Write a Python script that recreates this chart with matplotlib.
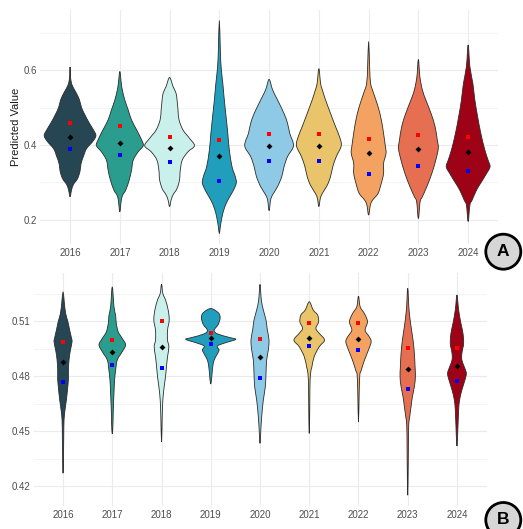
import numpy as np
import matplotlib
matplotlib.use("Agg")
import matplotlib.pyplot as plt
from matplotlib.path import Path
from matplotlib.patches import PathPatch, Circle

plt.rcParams["font.family"] = ["Liberation Sans", "DejaVu Sans"]

years = ["2016", "2017", "2018", "2019", "2020", "2021", "2022", "2023", "2024"]
colors = ["#264653", "#2a9d8f", "#caf0ec", "#219ebc", "#8ecae6",
          "#e9c46a", "#f4a261", "#e76f51", "#9d0216"]

# ---- Panel A: density outlines (value, half-width in category units) ----
top_values = {
    "2016": [0.262, 0.28, 0.295, 0.31, 0.33, 0.35, 0.37, 0.39, 0.41, 0.425, 0.44, 0.46, 0.48, 0.50, 0.52, 0.54, 0.56, 0.58, 0.608],
    "2017": [0.222, 0.253, 0.267, 0.28, 0.307, 0.333, 0.36, 0.382, 0.398, 0.413, 0.44, 0.467, 0.493, 0.52, 0.547, 0.564, 0.596],
    "2018": [0.236, 0.253, 0.267, 0.284, 0.307, 0.333, 0.36, 0.382, 0.398, 0.418, 0.44, 0.467, 0.493, 0.52, 0.538, 0.556, 0.58],
    "2019": [0.164, 0.182, 0.209, 0.231, 0.253, 0.276, 0.298, 0.316, 0.342, 0.387, 0.431, 0.476, 0.52, 0.564, 0.609, 0.653, 0.732],
    "2020": [0.225, 0.253, 0.267, 0.289, 0.316, 0.342, 0.369, 0.398, 0.431, 0.458, 0.484, 0.52, 0.547, 0.575],
    "2021": [0.236, 0.258, 0.271, 0.293, 0.316, 0.342, 0.369, 0.398, 0.422, 0.449, 0.484, 0.52, 0.547, 0.564, 0.604],
    "2022": [0.213, 0.24, 0.253, 0.271, 0.298, 0.324, 0.351, 0.378, 0.398, 0.431, 0.467, 0.502, 0.538, 0.564, 0.609, 0.676],
    "2023": [0.204, 0.249, 0.262, 0.289, 0.324, 0.36, 0.391, 0.413, 0.449, 0.484, 0.52, 0.547, 0.582, 0.628],
    "2024": [0.196, 0.24, 0.253, 0.28, 0.302, 0.324, 0.342, 0.36, 0.387, 0.431, 0.476, 0.52, 0.564, 0.609, 0.667],
}
top_widths = {
    "2016": [0.0, 0.03, 0.07, 0.15, 0.20, 0.22, 0.27, 0.33, 0.46, 0.52, 0.47, 0.38, 0.30, 0.23, 0.19, 0.12, 0.04, 0.01, 0.0],
    "2017": [0.0, 0.03, 0.06, 0.12, 0.19, 0.235, 0.27, 0.37, 0.47, 0.44, 0.34, 0.235, 0.17, 0.10, 0.05, 0.03, 0.0],
    "2018": [0.0, 0.03, 0.07, 0.15, 0.20, 0.215, 0.255, 0.37, 0.50, 0.40, 0.27, 0.19, 0.17, 0.15, 0.13, 0.07, 0.0],
    "2019": [0.0, 0.02, 0.055, 0.10, 0.17, 0.27, 0.34, 0.32, 0.255, 0.20, 0.17, 0.135, 0.10, 0.07, 0.035, 0.02, 0.0],
    "2020": [0.0, 0.03, 0.07, 0.17, 0.255, 0.30, 0.37, 0.49, 0.415, 0.37, 0.30, 0.17, 0.07, 0.0],
    "2021": [0.0, 0.03, 0.07, 0.17, 0.235, 0.28, 0.35, 0.45, 0.415, 0.335, 0.235, 0.135, 0.07, 0.035, 0.0],
    "2022": [0.0, 0.035, 0.08, 0.19, 0.255, 0.30, 0.30, 0.35, 0.335, 0.30, 0.255, 0.19, 0.10, 0.04, 0.02, 0.0],
    "2023": [0.0, 0.035, 0.08, 0.17, 0.27, 0.35, 0.40, 0.38, 0.335, 0.255, 0.15, 0.08, 0.03, 0.0],
    "2024": [0.0, 0.035, 0.08, 0.17, 0.27, 0.37, 0.44, 0.40, 0.335, 0.255, 0.19, 0.135, 0.095, 0.035, 0.0],
}
top_red = [0.458, 0.452, 0.422, 0.412, 0.428, 0.428, 0.417, 0.427, 0.420]
top_black = [0.422, 0.406, 0.393, 0.370, 0.397, 0.396, 0.378, 0.390, 0.380]
top_blue = [0.388, 0.372, 0.355, 0.305, 0.356, 0.357, 0.323, 0.343, 0.331]

# ---- Panel B ----
bot_values = {
    "2016": [0.427, 0.438, 0.447, 0.456, 0.4615, 0.467, 0.472, 0.478, 0.483, 0.489, 0.494, 0.4987, 0.501, 0.505, 0.510, 0.514, 0.5196, 0.526],
    "2017": [0.4484, 0.454, 0.4615, 0.4705, 0.4778, 0.483, 0.4887, 0.4933, 0.497, 0.5005, 0.504, 0.5087, 0.513, 0.5178, 0.5287],
    "2018": [0.4442, 0.4578, 0.467, 0.4742, 0.4796, 0.485, 0.4905, 0.496, 0.4996, 0.505, 0.5105, 0.516, 0.5215, 0.525, 0.530],
    "2019": [0.4756, 0.4815, 0.485, 0.4887, 0.4915, 0.4942, 0.4964, 0.4982, 0.500, 0.5011, 0.503, 0.505, 0.508, 0.5115, 0.514, 0.5160, 0.5168],
    "2020": [0.4433, 0.4524, 0.4596, 0.467, 0.4742, 0.4815, 0.4887, 0.4942, 0.4996, 0.505, 0.5105, 0.516, 0.5215, 0.530],
    "2021": [0.4487, 0.4615, 0.4742, 0.4815, 0.485, 0.4905, 0.496, 0.4996, 0.5033, 0.506, 0.5096, 0.5133, 0.516, 0.5205],
    "2022": [0.4549, 0.4705, 0.4805, 0.483, 0.4887, 0.4942, 0.4987, 0.5015, 0.505, 0.5096, 0.514, 0.5178, 0.5236],
    "2023": [0.415, 0.4305, 0.4433, 0.4533, 0.4578, 0.4633, 0.4687, 0.4742, 0.4796, 0.485, 0.4924, 0.4996, 0.5069, 0.516, 0.5278],
    "2024": [0.4418, 0.4524, 0.4615, 0.467, 0.4724, 0.4778, 0.4815, 0.485, 0.4887, 0.4924, 0.4978, 0.5033, 0.5087, 0.516, 0.5242],
}
bot_widths = {
    "2016": [0.0, 0.01, 0.014, 0.02, 0.04, 0.068, 0.088, 0.108, 0.108, 0.122, 0.149, 0.183, 0.169, 0.135, 0.095, 0.054, 0.027, 0.0],
    "2017": [0.0, 0.014, 0.02, 0.034, 0.047, 0.068, 0.10, 0.203, 0.27, 0.203, 0.122, 0.081, 0.068, 0.034, 0.0],
    "2018": [0.0, 0.014, 0.027, 0.054, 0.081, 0.10, 0.122, 0.149, 0.122, 0.122, 0.156, 0.135, 0.081, 0.027, 0.0],
    "2019": [0.0, 0.027, 0.04, 0.068, 0.122, 0.169, 0.135, 0.305, 0.508, 0.372, 0.135, 0.068, 0.149, 0.19, 0.169, 0.081, 0.0],
    "2020": [0.0, 0.02, 0.04, 0.068, 0.108, 0.122, 0.135, 0.169, 0.183, 0.149, 0.122, 0.068, 0.027, 0.0],
    "2021": [0.0, 0.01, 0.014, 0.027, 0.054, 0.10, 0.203, 0.311, 0.203, 0.135, 0.19, 0.169, 0.081, 0.0],
    "2022": [0.0, 0.014, 0.027, 0.054, 0.122, 0.203, 0.257, 0.217, 0.135, 0.183, 0.122, 0.034, 0.0],
    "2023": [0.0, 0.01, 0.014, 0.02, 0.04, 0.068, 0.095, 0.135, 0.156, 0.149, 0.135, 0.108, 0.068, 0.027, 0.0],
    "2024": [0.0, 0.02, 0.034, 0.054, 0.10, 0.162, 0.19, 0.149, 0.10, 0.10, 0.135, 0.122, 0.081, 0.034, 0.0],
}
bot_red = [0.4987, 0.4996, 0.5102, 0.5033, 0.5004, 0.5089, 0.5087, 0.4955, 0.4955]
bot_black = [0.4875, 0.4933, 0.4960, 0.5007, 0.4905, 0.5009, 0.5000, 0.4838, 0.4856]
bot_blue = [0.4767, 0.4860, 0.4845, 0.4975, 0.4791, 0.4962, 0.4940, 0.4731, 0.4773]

W, H = 523, 529
fig = plt.figure(figsize=(W / 100, H / 100), dpi=100)
fig.patch.set_facecolor("white")


def px_axes(left, top, right, bottom):
    return fig.add_axes([left / W, 1 - bottom / H, (right - left) / W, (bottom - top) / H])


def smooth_path(pts):
    """Closed Catmull-Rom curve through pts, as cubic Bezier segments."""
    pts = np.asarray(pts, dtype=float)
    n = len(pts)
    verts = [pts[0]]
    codes = [Path.MOVETO]
    for i in range(n):
        p0, p1, p2, p3 = pts[i - 1], pts[i], pts[(i + 1) % n], pts[(i + 2) % n]
        c1 = p1 + (p2 - p0) / 6.0
        c2 = p2 - (p3 - p1) / 6.0
        verts += [c1, c2, p2]
        codes += [Path.CURVE4] * 3
    return Path(verts, codes)


def draw_violin(ax, xc, vals, widths, color):
    vals = np.asarray(vals)
    widths = np.asarray(widths)
    right = [(xc + w, v) for v, w in zip(vals, widths)]
    left = [(xc - w, v) for v, w in zip(vals[::-1], widths[::-1])][1:-1]
    path = smooth_path(right + left)
    ax.add_patch(PathPatch(path, facecolor=color, edgecolor="#2b2b2b",
                           linewidth=0.6, zorder=2))


def style_axes(ax, ylim, yticks, yminor):
    ax.set_xlim(0.4, 9.6)
    ax.set_ylim(*ylim)
    ax.set_xticks(range(1, 10))
    ax.set_xticklabels(years)
    ax.set_yticks(yticks)
    ax.set_yticks(yminor, minor=True)
    for s in ax.spines.values():
        s.set_visible(False)
    ax.grid(True, which="major", color="#ebebeb", linewidth=0.8, zorder=0)
    ax.grid(True, which="minor", axis="y", color="#f2f2f2", linewidth=0.6, zorder=0)
    ax.set_axisbelow(True)
    ax.tick_params(which="both", length=0, labelsize=7, labelcolor="#4d4d4d", pad=2)
    ax.tick_params(axis="x", pad=3)


def draw_panel(ax, values, widths, red, black, blue):
    for i, yr in enumerate(years):
        draw_violin(ax, i + 1, values[yr], widths[yr], colors[i])
    xs = np.arange(1, 10)
    ax.scatter(xs, red, marker="s", s=7, color="#ff0000", zorder=4, linewidths=0)
    ax.scatter(xs, blue, marker="s", s=7, color="#0000ff", zorder=4, linewidths=0)
    ax.scatter(xs, black, marker="D", s=9, color="black", zorder=4, linewidths=0)


ax1 = px_axes(40.2, 10.4, 498, 243.6)
draw_panel(ax1, top_values, top_widths, top_red, top_black, top_blue)
style_axes(ax1, (0.137, 0.759), [0.2, 0.4, 0.6], [0.3, 0.5, 0.7])
ax1.set_yticklabels(["0.2", "0.4", "0.6"])
ax1.set_ylabel("Predicted Value", fontsize=8, color="#1a1a1a", labelpad=2)

ax2 = px_axes(33.5, 273, 486.5, 506)
draw_panel(ax2, bot_values, bot_widths, bot_red, bot_black, bot_blue)
style_axes(ax2, (0.4091, 0.5362), [0.42, 0.45, 0.48, 0.51], [0.435, 0.465, 0.495, 0.525])
ax2.set_yticklabels(["0.42", "0.45", "0.48", "0.51"])

# Panel badges
over = fig.add_axes([0, 0, 1, 1], zorder=10)
over.set_xlim(0, W)
over.set_ylim(H, 0)
over.axis("off")
for (cx, cy, letter) in [(503.3, 251.7, "A"), (503.3, 520.0, "B")]:
    over.add_patch(Circle((cx, cy), 17.5, facecolor="#d6d6d6", edgecolor="black",
                          linewidth=2.0, clip_on=False))
    over.text(cx, cy, letter, ha="center", va="center", fontsize=12.5,
              fontweight="bold", color="black")

fig.savefig("out.png", dpi=100, facecolor="white")
